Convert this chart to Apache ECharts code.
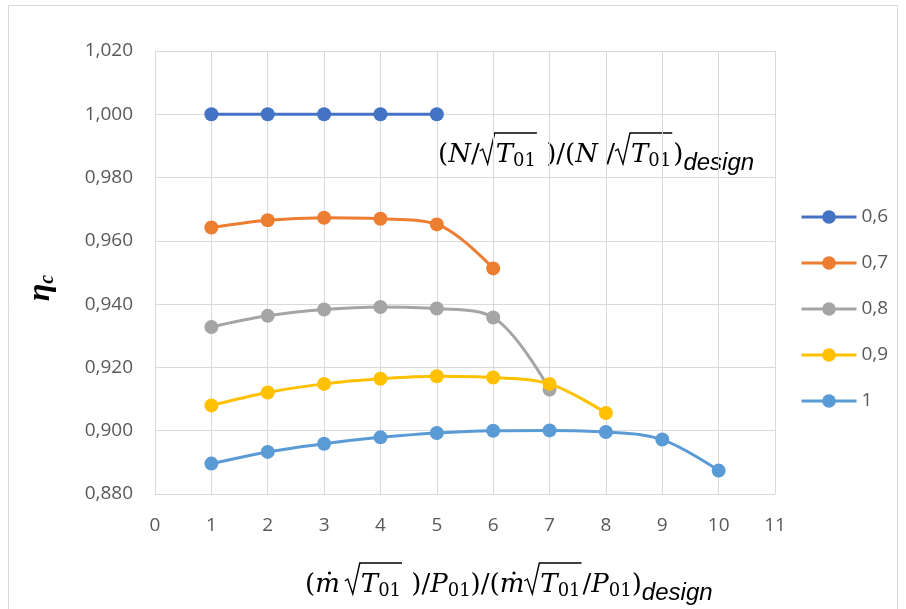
<!DOCTYPE html>
<html>
<head>
<meta charset="utf-8">
<script src="https://cdn.jsdelivr.net/npm/echarts@6/dist/echarts.min.js"></script>
<style>
  html, body { margin: 0; padding: 0; background: #fff; }
  #chart { width: 906px; height: 609px; }
</style>
</head>
<body>
<div id="chart"></div>
<script>
// Corrected flow (x) and compressor efficiency for each corrected speed line
const flowRatio = [1, 2, 3, 4, 5, 6, 7, 8, 9, 10];
const speedNames = ['0,6', '0,7', '0,8', '0,9', '1'];
const eta06 = [1.000, 1.000, 1.000, 1.000, 1.000];
const eta07 = [0.9642, 0.9665, 0.9673, 0.9670, 0.9652, 0.9513];
const eta08 = [0.9328, 0.9363, 0.9383, 0.9391, 0.9386, 0.9358, 0.9130];
const eta09 = [0.9080, 0.9121, 0.9148, 0.9164, 0.9172, 0.9168, 0.9148, 0.9056];
const eta10 = [0.8896, 0.8933, 0.8959, 0.8979, 0.8993, 0.9000, 0.9001, 0.8996, 0.8972, 0.8874];
const xTicks = { min: 0, max: 11, step: 1 };
const yTicks = { min: 0.88, max: 1.02, step: 0.02 };

const speedLines = [eta06, eta07, eta08, eta09, eta10];
const colors = ['#4472C4', '#ED7D31', '#A5A5A5', '#FFC000', '#5B9BD5'];

const chart = echarts.init(document.getElementById('chart'), null, { renderer: 'canvas' });

// ---- small formula typesetter: text runs, subscripts and radicals ----
const measureCtx = document.createElement('canvas').getContext('2d');
const FONT = {
  up:   { font: '26px "DejaVu Serif"', size: 26, dy: 0 },
  it:   { font: 'italic 26px "DejaVu Serif"', size: 26, dy: 0 },
  sub:  { font: '18px "DejaVu Serif"', size: 18, dy: 4 },
  des:  { font: 'italic 24px "Liberation Sans"', size: 24, dy: 8 }
};
function typeset(x0, base, items) {
  const els = [];
  let x = x0;
  function run(t, kind) {
    const f = FONT[kind];
    measureCtx.font = f.font;
    const w = measureCtx.measureText(t).width;
    els.push({
      type: 'text', x: x, y: base + f.dy - f.size * 0.3,
      style: { text: t, font: f.font, fill: '#000', verticalAlign: 'middle', align: 'left' }
    });
    x += w;
    return w;
  }
  function walk(list) {
    list.forEach(function (it) {
      if (it.gap) { x += it.gap; return; }
      if (it.mdot) {
        const w = run('m', 'it');
        els.push({ type: 'circle', shape: { cx: x - w / 2 + 2, cy: base - 20, r: 1.6 }, style: { fill: '#000' } });
        return;
      }
      if (it.rad) {
        const xs = x;
        const top = base - 30;
        x += 16;
        walk(it.rad);
        x += 1;
        els.push({
          type: 'polyline',
          shape: { points: [[xs, base - 12], [xs + 3, base - 14], [xs + 8, base + 1], [xs + 15, top], [x, top]] },
          style: { stroke: '#000', lineWidth: 1.4, fill: null }
        });
        x += 1;
        return;
      }
      run(it.t, it.k);
    });
  }
  walk(items);
  return els;
}

const speedTitle = typeset(438, 163, [
  { t: '(', k: 'up' }, { t: 'N', k: 'it' }, { t: '/', k: 'up' },
  { rad: [{ t: 'T', k: 'it' }, { t: '01', k: 'sub' }] },
  { t: ' )/(', k: 'up' }, { t: 'N', k: 'it' }, { t: ' /', k: 'up' },
  { rad: [{ t: 'T', k: 'it' }, { t: '01', k: 'sub' }] },
  { t: ')', k: 'up' }, { t: 'design', k: 'des' }
]);

const flowTitle = typeset(305, 593, [
  { t: '(', k: 'up' }, { mdot: true }, { gap: 5 },
  { rad: [{ t: 'T', k: 'it' }, { t: '01', k: 'sub' }] },
  { t: ' )/', k: 'up' }, { t: 'P', k: 'it' }, { t: '01', k: 'sub' },
  { t: ')/(', k: 'up' }, { mdot: true },
  { rad: [{ t: 'T', k: 'it' }, { t: '01', k: 'sub' }] },
  { t: '/', k: 'up' }, { t: 'P', k: 'it' }, { t: '01', k: 'sub' },
  { t: ')', k: 'up' }, { t: 'design', k: 'des' }
]);

const series = speedLines.map(function (vals, i) {
  return {
    name: speedNames[i],
    type: 'line',
    data: vals.map(function (v, j) { return [flowRatio[j], v]; }),
    smooth: 0.35,
    symbol: 'circle',
    symbolSize: 14,
    lineStyle: { width: 3, color: colors[i] },
    itemStyle: { color: colors[i] },
    emphasis: { disabled: true },
    z: 2 + i
  };
});

const gridColor = '#D9D9D9';
const labelStyle = { color: '#595959', fontSize: 19, fontFamily: '"Open Sans"' };

chart.setOption({
  animation: false,
  backgroundColor: '#fff',
  color: colors,
  grid: { left: 155, right: 131, top: 51, bottom: 115, containLabel: false },
  xAxis: {
    type: 'value', min: xTicks.min, max: xTicks.max, interval: xTicks.step,
    axisLine: { show: true, lineStyle: { color: gridColor, width: 1 } },
    axisTick: { show: false },
    splitLine: { show: true, lineStyle: { color: gridColor, width: 1 } },
    axisLabel: Object.assign({ margin: 22 }, labelStyle)
  },
  yAxis: {
    type: 'value', min: yTicks.min, max: yTicks.max, interval: yTicks.step,
    axisLine: { show: true, lineStyle: { color: gridColor, width: 1 } },
    axisTick: { show: false },
    splitLine: { show: true, lineStyle: { color: gridColor, width: 1 } },
    axisLabel: Object.assign({
      margin: 22,
      formatter: function (v) { return v.toFixed(3).replace('.', ','); }
    }, labelStyle)
  },
  legend: {
    orient: 'vertical',
    left: 800, top: 207, padding: 0,
    itemWidth: 55, itemHeight: 17, itemGap: 26,
    lineStyle: { width: 3 },
    textStyle: { color: '#595959', fontSize: 19, fontFamily: '"Open Sans"', lineHeight: 20 },
    data: speedNames
  },
  graphic: [
    {
      type: 'rect', silent: true,
      shape: { x: 8.5, y: 5.5, width: 889, height: 640 },
      style: { fill: null, stroke: '#D9D9D9', lineWidth: 1 }
    },
    {
      type: 'text', x: 41, y: 288, rotation: Math.PI / 2,
      style: {
        text: '{e|η}{c|c}',
        align: 'center', verticalAlign: 'middle',
        rich: {
          e: { font: 'bold italic 32px "Liberation Serif"', fill: '#000', lineHeight: 34, verticalAlign: 'middle' },
          c: { font: 'bold italic 20px "Liberation Serif"', fill: '#000', lineHeight: 34, verticalAlign: 'bottom', padding: [10, 0, 0, 0] }
        }
      }
    }
  ].concat(speedTitle, flowTitle),
  series: series
});
</script>
</body>
</html>
